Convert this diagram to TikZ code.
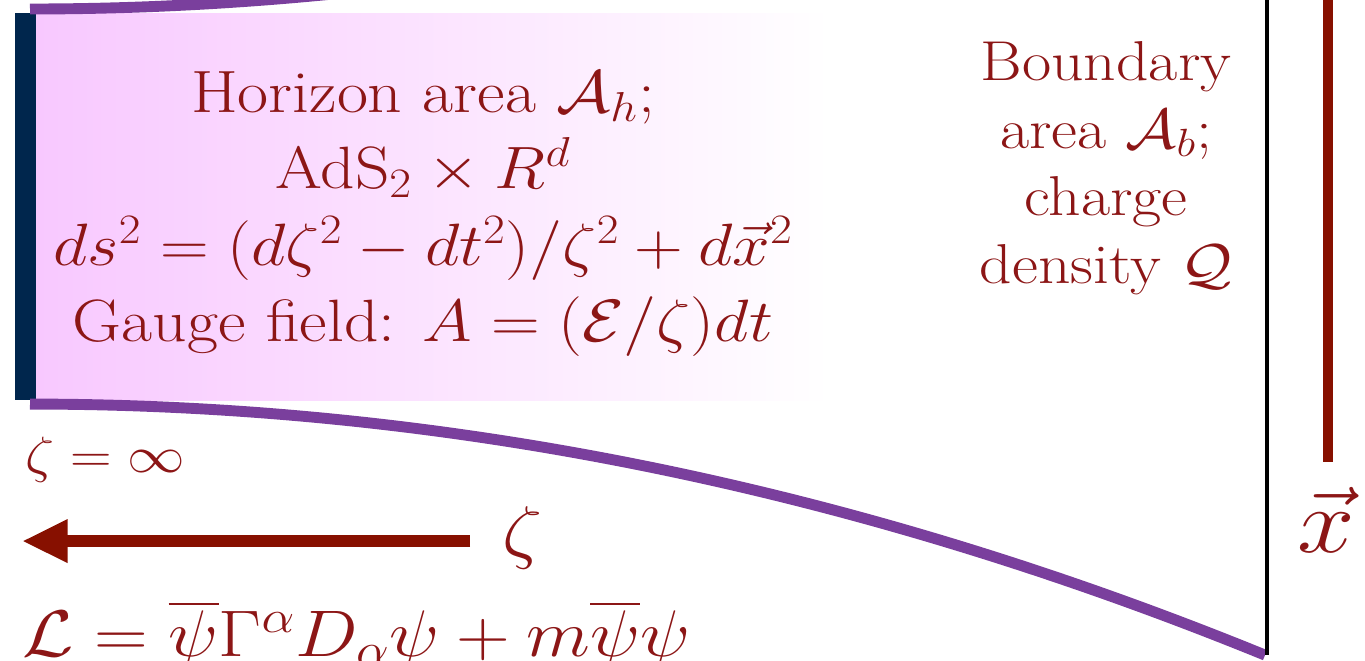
\RequirePackage{fix-cm}
\documentclass[tikz,border=0pt]{standalone}
\usepackage{amsmath}
\usetikzlibrary{arrows.meta}
\definecolor{textred}{RGB}{140,22,22}
\definecolor{linered}{RGB}{135,16,0}
\definecolor{branepurple}{RGB}{122,63,157}
\definecolor{horizonnavy}{RGB}{0,38,77}
\definecolor{horizonpink}{RGB}{248,200,255}
\begin{document}
\begin{tikzpicture}[x=0.0177cm, y=-0.02cm, xscale=1.13,
  every node/.style={text=textred, inner sep=0pt, transform shape},
  txt/.style={align=center, font=\fontsize{34}{43.5}\selectfont},
  brane/.style={draw=branepurple, line width=6.2pt},
  axisline/.style={draw=linered, line width=5.7pt}]
\useasboundingbox (0,0) rectangle (1365,660);
% horizon region
\shade[left color=horizonpink, right color=white] (36,13) rectangle (830,400);
\fill[horizonnavy] (15,13) rectangle (36,400);
\draw[brane] (30,404) .. controls (442,404) and (853,487) .. (1265,655);
\draw[brane] (30,9) .. controls (442,9) and (853,-74) .. (1265,-242);
\draw[black, line width=2.6pt] (1267,0) -- (1267,655);
% labels
\node[txt, anchor=north] (horizontext) at (423,71)
  {Horizon area $\mathcal{A}_h$;\\ AdS$_2\times R^d$\\
   $ds^2=(d\zeta^2-dt^2)/\zeta^2+d\vec{x}^2$\\
   Gauge field: $A=(\mathcal{E}/\zeta)dt$};
\node[txt, anchor=north, font=\fontsize{32}{38.5}\selectfont] (boundarytext) at (1106,41)
  {Boundary\\ area $\mathcal{A}_b$;\\ charge\\ density $\mathcal{Q}$};
\node[anchor=base west, font=\fontsize{29}{34}\selectfont] (zetainf) at (25,472) {$\zeta=\infty$};
\node[font=\fontsize{40}{46}\selectfont] (zetalabel) at (522,538) {$\zeta$};
\node[font=\fontsize{52}{58}\selectfont] (xlabel) at (1326,520) {$\vec{x}$};
\node[anchor=base west, font=\fontsize{37.5}{44}\selectfont] (lagrangian) at (22,656)
  {$\mathcal{L}=\overline{\psi}\Gamma^\alpha D_\alpha\psi+m\overline{\psi}\psi$};
% axes
\coordinate (zetatail) at (470,541);
\coordinate (zetahead) at (22,541);
\coordinate (xtop) at (1328,0);
\coordinate (xend) at (1328,462);
\draw[draw=linered, line width=6.8pt, -{Triangle[length=26pt, width=23pt]}] (zetatail) -- (zetahead);
\draw[axisline] (xtop) -- (xend);
\end{tikzpicture}
\end{document}
